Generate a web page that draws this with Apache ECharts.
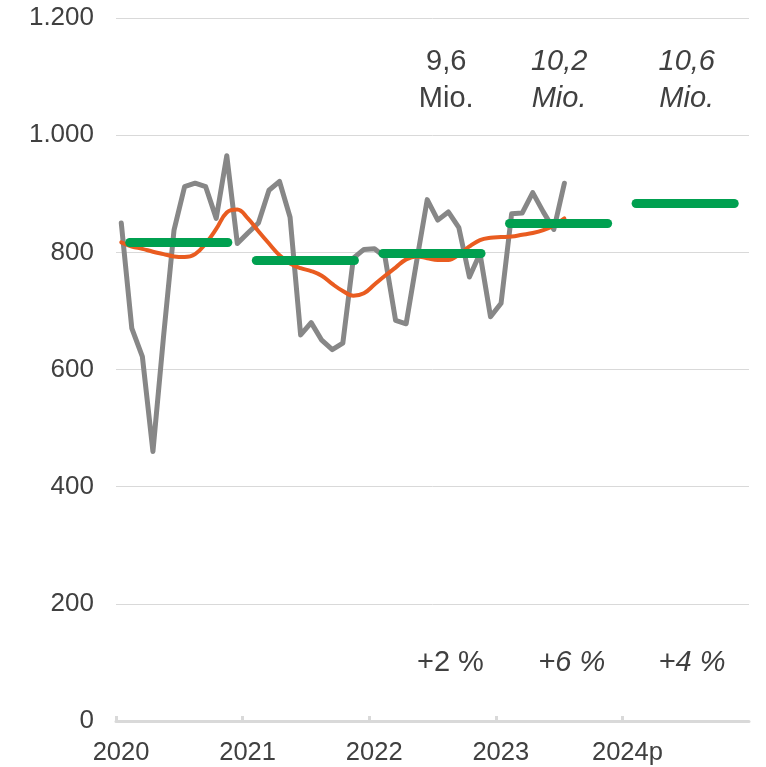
<!DOCTYPE html>
<html>
<head>
<meta charset="utf-8">
<script src="https://cdn.jsdelivr.net/npm/echarts@6/dist/echarts.min.js"></script>
<style>
html,body{margin:0;padding:0;background:#fff;}
#chart{width:766px;height:767px;}
</style>
</head>
<body>
<div id="chart"></div>
<script>
// ---- data ----
const yearLabels = ['2020', '2021', '2022', '2023', '2024p'];
// monthly values Jan 2020 .. Jul 2023
const monthly = [850, 670, 622, 460, 655, 838, 912, 918, 912, 858, 965, 815,
                 833, 850, 906, 921, 860, 659, 680, 650, 634, 645, 790, 805,
                 806, 792, 684, 678, 785, 890, 855, 869, 842, 758, 798, 690,
                 713, 866, 867, 902, 869, 839, 918];
// trend (moving average)
const trend = [817, 810, 806, 801, 797, 793, 792, 797, 815, 840, 868, 873,
               858, 836, 815, 795, 781, 773, 768, 760, 746, 734, 726, 730,
               745, 760, 774, 788, 793, 790, 787, 787, 796, 810, 821, 825,
               826, 827, 830, 833, 838, 846, 858];
// yearly monthly averages (green bars)
const yearAvg = [818, 787, 799, 849, 883];
// annotations per year (2022, 2023, 2024p)
const annYears = [2, 3, 4];
const annTotals = ['9,6', '10,2', '10,6'];
const annChanges = ['+2 %', '+6 %', '+4 %'];
const annForecast = [false, true, true];

// ---- chart ----
const FONT = '"Liberation Sans", Arial, sans-serif';
const TXT = '#404040';
const chart = echarts.init(document.getElementById('chart'));

const greenData = yearAvg.map((v, i) => ({ coords: [[i * 12 + 1.3, v], [i * 12 + 10.6, v]] }));
const totDx = [1.3, 0, 0.1];
const chgDx = [1.7, 1.2, 0.6];

const totalsData = annYears.map((y, i) => ({
  value: [y * 12 + 6 + totDx[i], 1094],
  label: { formatter: annTotals[i] + '\nMio.', fontStyle: annForecast[i] ? 'italic' : 'normal' }
}));
const changeData = annYears.map((y, i) => ({
  value: [y * 12 + 6 + chgDx[i], 99],
  label: { formatter: annChanges[i], fontStyle: annForecast[i] ? 'italic' : 'normal' }
}));

const labelBase = { show: true, position: 'inside', color: TXT, fontSize: 29, fontFamily: FONT, align: 'center', opacity: 1 };

chart.setOption({
  animation: false,
  backgroundColor: '#fff',
  grid: { left: 116, right: 17, top: 18, bottom: 46, containLabel: false },
  xAxis: {
    type: 'value', min: 0, max: 60, interval: 12,
    axisLine: { show: true, lineStyle: { color: '#d9d9d9', width: 3 } },
    axisTick: { show: true, inside: true, length: 5, lineStyle: { color: '#d9d9d9', width: 3 } },
    splitLine: { show: false },
    axisLabel: {
      color: TXT, fontSize: 25.5, fontFamily: FONT, margin: 19, padding: [0, 0, 0, 10],
      showMaxLabel: false,
      formatter: v => (v / 12 < yearLabels.length ? yearLabels[v / 12] : '')
    }
  },
  yAxis: {
    type: 'value', min: 0, max: 1200, interval: 200,
    axisLine: { show: false }, axisTick: { show: false },
    splitLine: { show: true, lineStyle: { color: '#d9d9d9', width: 1 } },
    axisLabel: {
      color: TXT, fontSize: 26, fontFamily: FONT, margin: 22,
      formatter: v => String(v).replace(/\B(?=(\d{3})+(?!\d))/g, '.')
    }
  },
  series: [
    {
      type: 'line', name: 'monthly', symbol: 'none',
      data: monthly.map((v, i) => [i + 0.5, v]),
      lineStyle: { color: '#878787', width: 5, join: 'round', cap: 'round' },
      z: 2
    },
    {
      type: 'line', name: 'trend', symbol: 'none', smooth: 0.4,
      data: trend.map((v, i) => [i + 0.5, v]),
      lineStyle: { color: '#E95C20', width: 4, cap: 'round' },
      z: 3
    },
    {
      type: 'lines', coordinateSystem: 'cartesian2d', polyline: false,
      data: greenData,
      lineStyle: { color: '#00A050', width: 9, cap: 'round', opacity: 1 },
      z: 4
    },
    {
      type: 'scatter', symbolSize: 0, data: totalsData, silent: true,
      itemStyle: { opacity: 1 },
      label: Object.assign({}, labelBase, { lineHeight: 37 }),
      z: 5
    },
    {
      type: 'scatter', symbolSize: 0, data: changeData, silent: true,
      itemStyle: { opacity: 1 },
      label: Object.assign({}, labelBase),
      z: 5
    }
  ]
});
</script>
</body>
</html>
